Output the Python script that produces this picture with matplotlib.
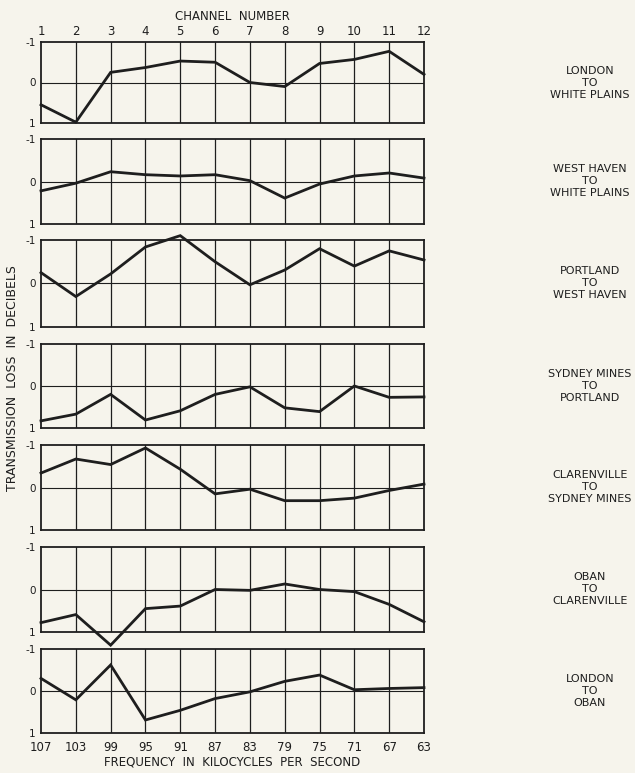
import numpy as np
import matplotlib.pyplot as plt

channels = list(range(1, 13))
frequencies = [107, 103, 99, 95, 91, 87, 83, 79, 75, 71, 67, 63]

routes = [
    "LONDON\nTO\nWHITE PLAINS",
    "WEST HAVEN\nTO\nWHITE PLAINS",
    "PORTLAND\nTO\nWEST HAVEN",
    "SYDNEY MINES\nTO\nPORTLAND",
    "CLARENVILLE\nTO\nSYDNEY MINES",
    "OBAN\nTO\nCLARENVILLE",
    "LONDON\nTO\nOBAN",
]

london_white_plains = [0.55, 0.98, -0.25, -0.37, -0.53, -0.5, 0.0, 0.1, -0.47, -0.57, -0.77, -0.2]
west_haven_white_plains = [0.22, 0.04, -0.23, -0.16, -0.13, -0.16, -0.02, 0.39, 0.06, -0.13, -0.2, -0.08]
portland_west_haven = [-0.25, 0.3, -0.22, -0.84, -1.1, -0.5, 0.03, -0.31, -0.8, -0.4, -0.75, -0.54]
sydney_portland = [0.83, 0.67, 0.2, 0.81, 0.59, 0.2, 0.02, 0.52, 0.61, 0.0, 0.27, 0.26]
clarenville_sydney = [-0.34, -0.67, -0.54, -0.93, -0.43, 0.15, 0.04, 0.31, 0.31, 0.25, 0.07, -0.08]
oban_clarenville = [0.78, 0.59, 1.31, 0.45, 0.39, 0.0, 0.02, -0.13, 0.0, 0.05, 0.35, 0.76]
london_oban = [-0.3, 0.21, -0.62, 0.69, 0.46, 0.18, 0.02, -0.23, -0.38, -0.03, -0.06, -0.08]

series = [london_white_plains, west_haven_white_plains, portland_west_haven,
          sydney_portland, clarenville_sydney, oban_clarenville, london_oban]

# panel top/bottom in pixels
panel_px = [(42, 123), (139, 224), (240, 327), (344, 428), (445, 530), (547, 632), (649, 733)]

W, H = 635, 773
bg = '#f6f4ec'
ink = '#1e1e1e'

fig = plt.figure(figsize=(W / 100, H / 100), dpi=100, facecolor=bg)
left, right = 41, 424

for i, (vals, route, (top, bot)) in enumerate(zip(series, routes, panel_px)):
    ax = fig.add_axes([left / W, 1 - bot / H, (right - left) / W, (bot - top) / H])
    ax.set_facecolor(bg)
    ax.set_xlim(1, 12)
    ax.set_ylim(1, -1)
    for c in channels[1:-1]:
        ax.axvline(c, color=ink, lw=0.9, zorder=1)
    ax.axhline(0, color=ink, lw=0.8, zorder=1)
    ax.plot(channels, vals, color=ink, lw=2.0, clip_on=False, zorder=3,
            solid_joinstyle='miter')
    for s in ax.spines.values():
        s.set_linewidth(1.3)
        s.set_color(ink)
    ax.set_yticks([-1, 0, 1])
    ax.set_yticklabels(['-1', '0', '1'])
    ax.tick_params(axis='y', length=0, pad=4, labelsize=7.5, colors=ink)
    ax.set_xticks(channels)
    if i == 0:
        ax.xaxis.tick_top()
        ax.set_xticklabels([str(c) for c in channels])
        ax.tick_params(axis='x', length=0, pad=3, labelsize=8.5, colors=ink)
        ax.set_title('CHANNEL  NUMBER', fontsize=8.5, color=ink, pad=16)
    elif i == len(series) - 1:
        ax.set_xticklabels([str(f) for f in frequencies])
        ax.tick_params(axis='x', length=0, pad=6, labelsize=8.5, colors=ink)
        ax.set_xlabel('FREQUENCY  IN  KILOCYCLES  PER  SECOND', fontsize=8.5,
                      color=ink, labelpad=1)
    else:
        ax.tick_params(axis='x', length=0, labelbottom=False)
    fig.text(590 / W, 1 - (top + bot) / 2 / H, route, ha='center', va='center',
             fontsize=8, color=ink, linespacing=1.25)

fig.text(13 / W, 1 - 378 / H, 'TRANSMISSION  LOSS  IN  DECIBELS', rotation=90,
         ha='center', va='center', fontsize=9, color=ink)

fig.savefig('out.png', dpi=100, facecolor=bg)
